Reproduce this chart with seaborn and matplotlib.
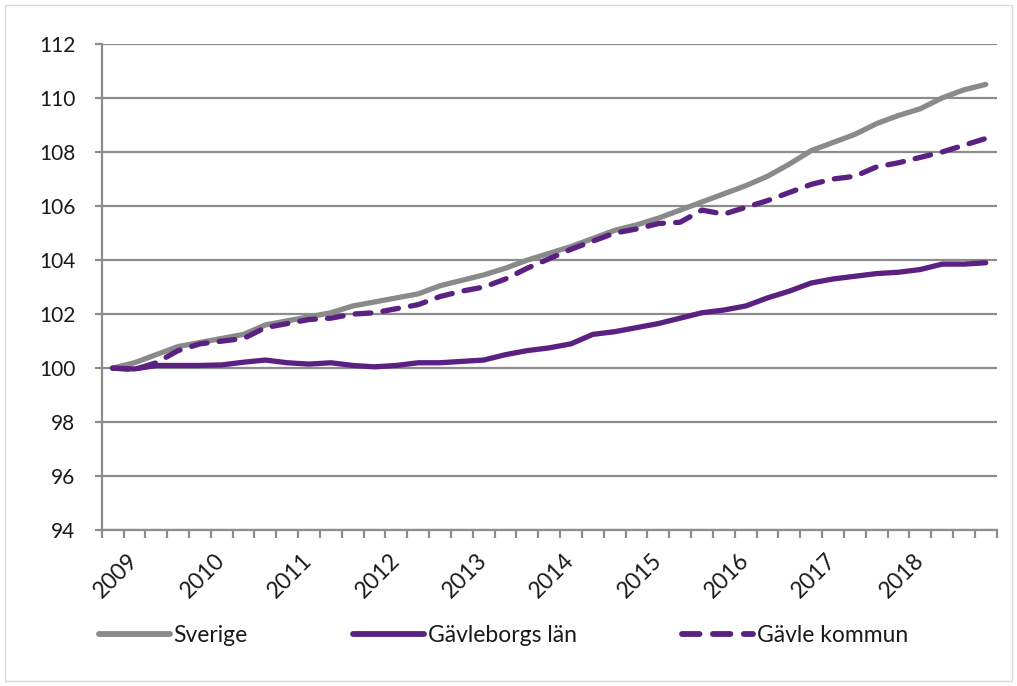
import numpy as np
import pandas as pd
import matplotlib.pyplot as plt
import matplotlib.patches as patches
import seaborn as sns

# quarterly index series (first quarter = 100)
years = [str(y) for y in range(2009, 2019)]
year_pos = [1, 5, 9, 13, 17, 21, 25, 29, 33, 37]

sverige = [100.0, 100.2, 100.5, 100.8, 100.95, 101.1, 101.25, 101.6, 101.75, 101.9,
           102.05, 102.3, 102.45, 102.6, 102.75, 103.05, 103.25, 103.45, 103.7, 104.0,
           104.25, 104.5, 104.8, 105.1, 105.3, 105.55, 105.85, 106.15, 106.45, 106.75,
           107.1, 107.55, 108.05, 108.35, 108.65, 109.05, 109.35, 109.6, 110.0, 110.3,
           110.5]
gavleborg = [100.0, 99.97, 100.1, 100.1, 100.1, 100.12, 100.22, 100.3, 100.2, 100.15,
             100.2, 100.1, 100.05, 100.1, 100.2, 100.2, 100.25, 100.3, 100.5, 100.65,
             100.75, 100.9, 101.25, 101.35, 101.5, 101.65, 101.85, 102.05, 102.15, 102.3,
             102.6, 102.85, 103.15, 103.3, 103.4, 103.5, 103.55, 103.65, 103.85, 103.85,
             103.9]
gavle = [100.0, 99.95, 100.2, 100.65, 100.9, 101.0, 101.1, 101.5, 101.65, 101.8,
         101.85, 102.0, 102.05, 102.2, 102.35, 102.65, 102.85, 103.0, 103.3, 103.7,
         104.05, 104.4, 104.7, 105.0, 105.15, 105.35, 105.4, 105.85, 105.7, 105.95,
         106.2, 106.5, 106.8, 107.0, 107.1, 107.45, 107.6, 107.8, 108.0, 108.25,
         108.5]

GRAY = '#8a8a8a'
PURPLE = '#5b2182'
GRID = '#8c8c8c'

sns.set_style('white')
plt.rcParams['font.family'] = ['Lato', 'DejaVu Sans']

fig = plt.figure(figsize=(10.17, 6.86), dpi=100)
ax = fig.add_axes([0.100, 0.227, 0.880, 0.709])

q = np.arange(len(sverige))
df = pd.DataFrame({'q': q, 'Sverige': sverige, 'Gävleborgs län': gavleborg, 'Gävle kommun': gavle})

sns.lineplot(data=df, x='q', y='Sverige', ax=ax, color=GRAY, lw=3.8,
             solid_capstyle='round', label='Sverige')
sns.lineplot(data=df, x='q', y='Gävleborgs län', ax=ax, color=PURPLE, lw=3.8,
             solid_capstyle='round', label='Gävleborgs län')
sns.lineplot(data=df, x='q', y='Gävle kommun', ax=ax, color=PURPLE, lw=3.8,
             dash_capstyle='round', label='Gävle kommun')
ax.lines[-1].set_dashes((3.0, 2.3))

ax.set_xlim(-0.5, len(sverige) - 0.5)
ax.set_ylim(94, 112)
ax.set_yticks(range(94, 113, 2))
ax.grid(axis='y', color=GRID, lw=1.6)
ax.set_axisbelow(True)

ax.set_xticks(year_pos)
ax.set_xticklabels(years, rotation=45, ha='right', va='center', rotation_mode='anchor')
ax.set_xticks(np.arange(-0.5, len(sverige), 1), minor=True)
ax.tick_params(axis='x', which='major', bottom=True, length=0, pad=19, labelsize=16.5,
               labelcolor='#1a1a1a')
ax.tick_params(axis='x', which='minor', bottom=True, length=6, width=1.6, color=GRID,
               direction='out')
ax.tick_params(axis='y', left=True, length=5, width=1.6, color=GRID, direction='out', pad=14,
               labelsize=15, labelcolor='#1a1a1a')
ax.set_xlabel('')
ax.set_ylabel('')

for side in ['top', 'right']:
    ax.spines[side].set_visible(False)
for side in ['left', 'bottom']:
    ax.spines[side].set_color(GRID)
    ax.spines[side].set_linewidth(1.6)

handles, labels = ax.get_legend_handles_labels()
ax.get_legend().remove()
leg = fig.legend(handles, labels, loc='center', bbox_to_anchor=(0.495, 0.073), ncol=3,
                 frameon=False, handlelength=3.1, handletextpad=0.15, columnspacing=4.6,
                 fontsize=16.5)
for t in leg.get_texts():
    t.set_color('#1a1a1a')
for h in leg.legend_handles:
    h.set_linewidth(4.2)

fig.patches.append(patches.Rectangle((0.005, 0.008), 0.99, 0.984, transform=fig.transFigure,
                                     fill=False, edgecolor='#d9d9d9', lw=1))

fig.savefig('out.png', dpi=100)
